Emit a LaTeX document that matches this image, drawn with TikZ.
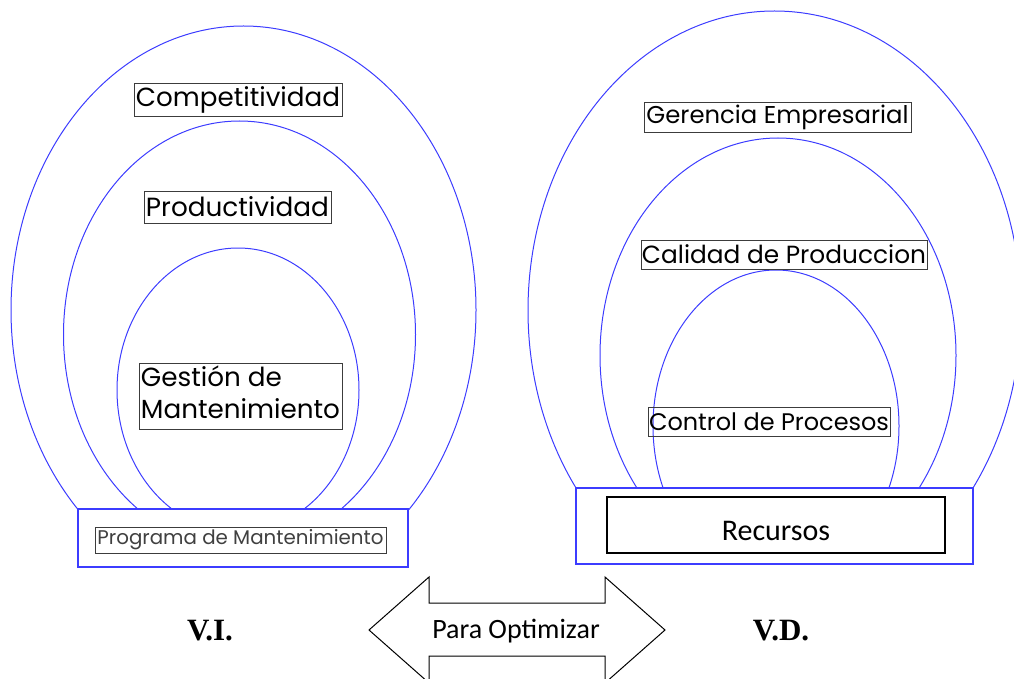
\documentclass[tikz,border=0pt]{standalone}
\usepackage{fontspec}
\usepackage{graphicx}
\setmainfont{Poppins}
\newfontfamily\carlito{Carlito}
\newfontfamily\timesf{Liberation Serif}
\definecolor{eblue}{RGB}{60,60,255}
\definecolor{lblgray}{RGB}{60,60,60}
\newcommand\fitw[2]{\resizebox{#1}{!}{#2}}
\tikzset{
  ring/.style={draw=eblue, line width=1pt},
  lbl/.style={draw=lblgray, line width=0.8pt, inner sep=0pt, anchor=center},
  basebox/.style={draw=eblue, line width=1.1pt, inner sep=0pt, fill=white},
  varlbl/.style={font=\timesf\bfseries\fontsize{31}{36}\selectfont, inner sep=0pt},
}
\begin{document}
\begin{tikzpicture}[x=1pt,y=-1pt]
\useasboundingbox (0,0) rectangle (1014,679);
\clip (0,0) rectangle (1014,679);
% left rings
\begin{scope}
  \clip (0,0) rectangle (507,509);
  \draw[ring] (243.5,310) ellipse [x radius=232.5pt, y radius=284pt];
  \draw[ring] (239.5,334.6) ellipse [x radius=176pt, y radius=213.6pt];
  \draw[ring] (238,390) ellipse [x radius=121pt, y radius=142pt];
\end{scope}
% right rings
\begin{scope}
  \clip (507,0) rectangle (1014,488);
  \draw[ring] (774.5,310.4) ellipse [x radius=246.5pt, y radius=299.4pt];
  \draw[ring] (778,355.4) ellipse [x radius=178pt, y radius=217.4pt];
  \draw[ring] (776,426) ellipse [x radius=123pt, y radius=156pt];
\end{scope}
% labels left
\node[lbl, minimum width=208pt, minimum height=33pt] (comp) at (238,99.5) {\fitw{204pt}{Competitividad}};
\node[lbl, minimum width=187pt, minimum height=32pt] (prod) at (237.5,207) {\fitw{183pt}{Productividad}};
\node[lbl, minimum width=203pt, minimum height=66pt] (gest) at (240.5,396) {\fitw{199pt}{\begin{tabular}{@{}l@{}}Gestión de\\Mantenimiento\end{tabular}}};
% labels right
\node[lbl, minimum width=267pt, minimum height=30pt] (ger) at (777.5,117) {\fitw{262pt}{Gerencia Empresarial}};
\node[lbl, minimum width=286pt, minimum height=29pt] (cal) at (784,254.5) {\fitw{284pt}{Calidad de Produccion}};
\node[lbl, minimum width=242pt, minimum height=29pt] (ctrl) at (769,421.5) {\fitw{240pt}{Control de Procesos}};
% base boxes
\node[basebox, minimum width=330pt, minimum height=58pt] (pbase) at (243,538) {};
\node[lbl, minimum width=291pt, minimum height=26pt, text=black!75] (prog) at (240.5,540) {\fitw{286pt}{Programa de Mantenimiento}};
\node[basebox, minimum width=397pt, minimum height=76pt] (rbase) at (774.5,526) {};
\node[draw=black, line width=1.4pt, minimum width=338pt, minimum height=56pt, inner sep=0pt] (rec) at (776,525) {};
\node[font=\carlito\fontsize{30}{36}\selectfont, inner sep=0pt] (rectxt) at (776,531) {Recursos};
% arrow
\draw[line width=1pt, fill=white] (369,630) -- (429,577) -- (429,603) -- (605,603) -- (605,577) -- (665,630)
  -- (605,683) -- (605,656) -- (429,656) -- (429,683) -- cycle;
\node[font=\carlito\fontsize{28}{34}\selectfont, inner sep=0pt] (opt) at (516,631) {Para Optimizar};
% variable labels
\node[varlbl] (vi) at (210,631) {V.I.};
\node[varlbl] (vd) at (781,631) {V.D.};
\end{tikzpicture}
\end{document}
